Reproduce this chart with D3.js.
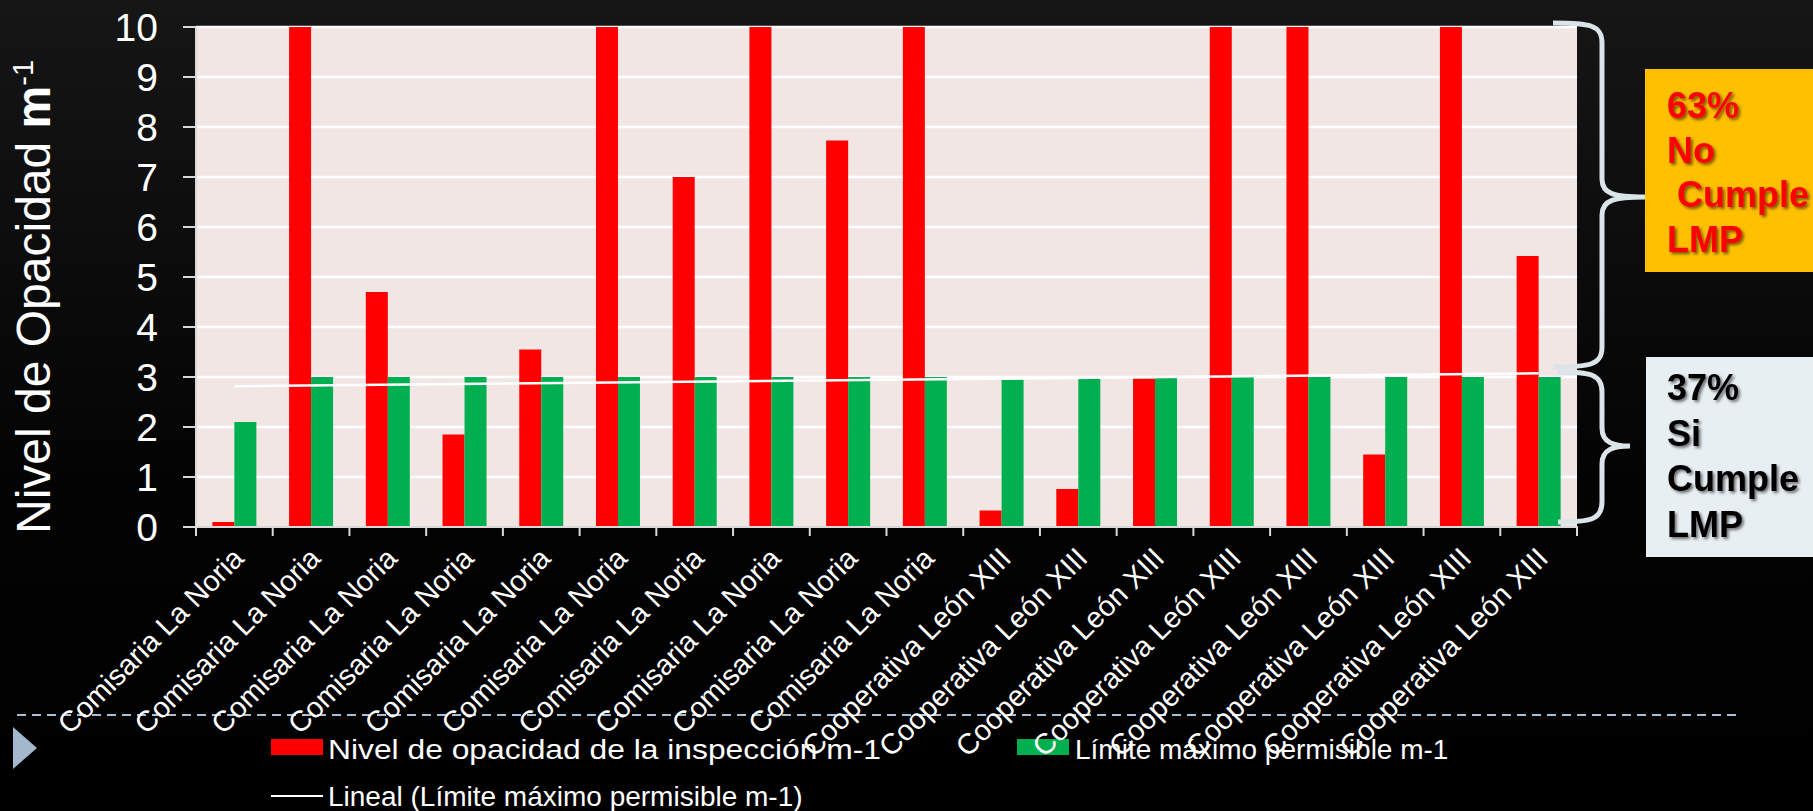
<!DOCTYPE html>
<html>
<head>
<meta charset="utf-8">
<script src="https://cdn.jsdelivr.net/npm/d3@7"></script>
<style>
  html, body { margin: 0; padding: 0; background: #000; }
  svg { display: block; }
</style>
</head>
<body>
<div id="chart"></div>
<script>
// categories (one per inspection)
const categories = [
    'Comisaria La Noria', 'Comisaria La Noria', 'Comisaria La Noria', 'Comisaria La Noria',
    'Comisaria La Noria', 'Comisaria La Noria', 'Comisaria La Noria', 'Comisaria La Noria',
    'Comisaria La Noria', 'Comisaria La Noria',
    'Cooperativa León XIII', 'Cooperativa León XIII', 'Cooperativa León XIII', 'Cooperativa León XIII',
    'Cooperativa León XIII', 'Cooperativa León XIII', 'Cooperativa León XIII', 'Cooperativa León XIII'
];

// Nivel de opacidad de la inspección m-1
const opacidad = [0.1, 10, 4.7, 1.85, 3.55, 10, 7.0, 10, 7.73, 10, 0.33, 0.76, 2.97, 10, 10, 1.45, 10, 5.42];

// Límite máximo permisible m-1
const limite = [2.1, 3, 3, 3, 3, 3, 3, 3, 3, 3, 2.95, 2.97, 2.98, 3, 3, 3, 3, 3];

const yTicks = [0, 1, 2, 3, 4, 5, 6, 7, 8, 9, 10];

const seriesNames = ['Nivel de opacidad de la inspección m-1', 'Límite máximo permisible m-1'];
const trendName = 'Lineal (Límite máximo permisible m-1)';

const noCumple = ['63%', 'No', '\u00a0Cumple', 'LMP'];
const siCumple = ['37%', 'Si', 'Cumple', 'LMP'];

const W = 1813, H = 811;
const FONT = '"Liberation Sans", Arial, sans-serif';
const RED = '#ff0000', GREEN = '#00b050';

const svg = d3.select('#chart').append('svg')
    .attr('width', W)
    .attr('height', H);

const defs = svg.append('defs');
const bg = defs.append('linearGradient')
    .attr('id', 'bg')
    .attr('x1', 0).attr('y1', 0).attr('x2', 0).attr('y2', 1);
bg.append('stop').attr('offset', 0).attr('stop-color', '#161616');
bg.append('stop').attr('offset', 0.6).attr('stop-color', '#030303');
bg.append('stop').attr('offset', 1).attr('stop-color', '#000');

const shadow = defs.append('filter').attr('id', 'shadow')
    .attr('x', '-10%').attr('y', '-10%').attr('width', '130%').attr('height', '140%');
shadow.append('feDropShadow')
    .attr('dx', 2).attr('dy', 2).attr('stdDeviation', 1.5)
    .attr('flood-color', '#000').attr('flood-opacity', 0.55);

svg.append('rect')
    .attr('width', W).attr('height', H)
    .attr('fill', 'url(#bg)');

// plot area
const plot = { left: 196, right: 1577, top: 27, bottom: 527 };

const x = d3.scaleBand()
    .domain(d3.range(categories.length))
    .range([plot.left, plot.right])
    .paddingInner(0.4265)
    .paddingOuter(0.2133);

const xSub = d3.scaleBand()
    .domain([0, 1])
    .range([0, x.bandwidth()]);

const y = d3.scaleLinear()
    .domain([0, 10])
    .range([plot.bottom, plot.top]);

const step = x.step();
const bandStart = i => x(i) - step * x.paddingInner() / 2;
const center = i => x(i) + x.bandwidth() / 2;

svg.append('rect')
    .attr('x', plot.left).attr('y', plot.top)
    .attr('width', plot.right - plot.left)
    .attr('height', plot.bottom - plot.top)
    .attr('fill', '#f2e6e4');

// gridlines
svg.append('g')
    .selectAll('line')
    .data(yTicks.filter(d => d > 0))
    .enter()
    .append('line')
    .attr('x1', plot.left).attr('x2', plot.right)
    .attr('y1', d => y(d)).attr('y2', d => y(d))
    .attr('stroke', '#fff')
    .attr('stroke-width', 2.5);

// bars
const groups = svg.append('g')
    .selectAll('g')
    .data(categories.map((c, i) => i))
    .enter()
    .append('g')
    .attr('transform', i => `translate(${x(i)},0)`);

groups.append('rect')
    .attr('x', xSub(0))
    .attr('y', i => y(opacidad[i]))
    .attr('width', xSub.bandwidth())
    .attr('height', i => y(0) - y(opacidad[i]))
    .attr('fill', RED);

groups.append('rect')
    .attr('x', xSub(1))
    .attr('y', i => y(limite[i]))
    .attr('width', xSub.bandwidth())
    .attr('height', i => y(0) - y(limite[i]))
    .attr('fill', GREEN);

// linear trendline of the limit series (least squares)
const idx = d3.range(1, limite.length + 1);
const mx = d3.mean(idx), my = d3.mean(limite);
const slope = d3.sum(idx, (v, k) => (v - mx) * (limite[k] - my)) / d3.sum(idx, v => (v - mx) * (v - mx));
const icpt = my - slope * mx;
const trend = [0, limite.length - 1].map(i => ({ i, v: icpt + slope * (i + 1) }));

svg.append('path')
    .datum(trend)
    .attr('d', d3.line().x(d => center(d.i)).y(d => y(d.v)))
    .attr('stroke', '#fff')
    .attr('stroke-width', 2.5)
    .attr('fill', 'none');

// axes
const axisColor = '#d9d9d9';
svg.append('line')
    .attr('x1', plot.left).attr('x2', plot.left)
    .attr('y1', plot.top).attr('y2', plot.bottom)
    .attr('stroke', axisColor).attr('stroke-width', 2);

svg.append('g')
    .selectAll('line')
    .data(yTicks)
    .enter()
    .append('line')
    .attr('x1', plot.left - 13).attr('x2', plot.left)
    .attr('y1', d => y(d)).attr('y2', d => y(d))
    .attr('stroke', axisColor).attr('stroke-width', 2);

svg.append('line')
    .attr('x1', plot.left - 13).attr('x2', plot.right + 1)
    .attr('y1', plot.bottom).attr('y2', plot.bottom)
    .attr('stroke', axisColor).attr('stroke-width', 2);

svg.append('g')
    .selectAll('line')
    .data(d3.range(categories.length + 1))
    .enter()
    .append('line')
    .attr('x1', i => i < categories.length ? bandStart(i) : plot.right)
    .attr('x2', i => i < categories.length ? bandStart(i) : plot.right)
    .attr('y1', plot.bottom).attr('y2', plot.bottom + 9)
    .attr('stroke', axisColor).attr('stroke-width', 2);

svg.append('g')
    .selectAll('text')
    .data(yTicks)
    .enter()
    .append('text')
    .attr('x', 158)
    .attr('y', d => y(d))
    .attr('dy', '0.36em')
    .attr('text-anchor', 'end')
    .style('font-family', FONT)
    .style('font-size', '39px')
    .style('fill', '#fff')
    .text(d => d);

// y axis title
const yTitle = svg.append('text')
    .attr('transform', `translate(50,534) rotate(-90)`)
    .style('font-family', FONT)
    .style('font-size', '48px')
    .style('fill', '#fff');
yTitle.append('tspan').text('Nivel de Opacidad ');
yTitle.append('tspan').style('font-weight', 'bold').text('m');
yTitle.append('tspan').attr('dy', '-0.6em').style('font-size', '29px').text('-1');

// dashed separator + marker
svg.append('line')
    .attr('x1', 17).attr('x2', 1742)
    .attr('y1', 715).attr('y2', 715)
    .attr('stroke', '#a9bfd6')
    .attr('stroke-width', 2)
    .attr('stroke-dasharray', '9,6');

svg.append('path')
    .attr('d', 'M13,727 L13,769 L37,748 Z')
    .attr('fill', '#a3b8cc');

// legend
const legend = svg.append('g');
legend.append('rect')
    .attr('x', 271).attr('y', 739).attr('width', 52).attr('height', 16)
    .attr('fill', RED);
legend.append('text')
    .attr('x', 328).attr('y', 759)
    .attr('textLength', 553).attr('lengthAdjust', 'spacingAndGlyphs')
    .style('font-family', FONT).style('font-size', '28px').style('fill', '#fff')
    .text(seriesNames[0]);
legend.append('rect')
    .attr('x', 1017).attr('y', 739).attr('width', 52).attr('height', 16)
    .attr('fill', GREEN);
legend.append('text')
    .attr('x', 1075).attr('y', 759)
    .style('font-family', FONT).style('font-size', '28px').style('fill', '#fff')
    .text(seriesNames[1]);
legend.append('line')
    .attr('x1', 271).attr('x2', 323)
    .attr('y1', 796).attr('y2', 796)
    .attr('stroke', '#fff').attr('stroke-width', 2);
legend.append('text')
    .attr('x', 328).attr('y', 806)
    .style('font-family', FONT).style('font-size', '28px').style('fill', '#fff')
    .text(trendName);

// category labels (rotated)
svg.append('g')
    .selectAll('text')
    .data(categories)
    .enter()
    .append('text')
    .attr('transform', (d, i) => `translate(${center(i) + 11},560) rotate(-45)`)
    .attr('text-anchor', 'end')
    .style('font-family', FONT)
    .style('font-size', '29px')
    .style('fill', '#fff')
    .text(d => d);

// braces
function brace(x0, x1, xp, y0, ym, y1) {
    return `M${x0},${y0} C${x1 - 12},${y0} ${x1},${y0 + 2} ${x1},${y0 + 20}` +
        ` L${x1},${ym - 18} C${x1},${ym - 3} ${x1 + 12},${ym} ${xp},${ym}` +
        ` C${x1 + 12},${ym} ${x1},${ym + 3} ${x1},${ym + 18}` +
        ` L${x1},${y1 - 20} C${x1},${y1 - 2} ${x1 - 12},${y1} ${x0},${y1}`;
}
const braceColor = '#dbe4e9';
svg.append('path')
    .attr('d', brace(1553, 1602, 1645, y(10) - 4, y(6.6), y(3.2)))
    .attr('fill', 'none').attr('stroke', braceColor).attr('stroke-width', 5);
svg.append('path')
    .attr('d', brace(1558, 1602, 1630, y(3.1), y(1.62), y(0.1)))
    .attr('fill', 'none').attr('stroke', braceColor).attr('stroke-width', 5);

// annotation boxes
svg.append('rect')
    .attr('x', 1645).attr('y', 69).attr('width', W - 1645).attr('height', 203)
    .attr('fill', '#ffc000');
svg.append('g')
    .selectAll('text')
    .data(noCumple)
    .enter()
    .append('text')
    .attr('x', 1667)
    .attr('y', (d, i) => 118 + i * 44.7)
    .attr('filter', 'url(#shadow)')
    .style('font-family', FONT).style('font-size', '36px').style('font-weight', 'bold')
    .style('fill', RED)
    .text(d => d);

svg.append('rect')
    .attr('x', 1646).attr('y', 357).attr('width', W - 1646).attr('height', 200)
    .attr('fill', '#e8eff2');
svg.append('g')
    .selectAll('text')
    .data(siCumple)
    .enter()
    .append('text')
    .attr('x', 1667)
    .attr('y', (d, i) => 400 + i * 45.5)
    .attr('filter', 'url(#shadow)')
    .style('font-family', FONT).style('font-size', '36px').style('font-weight', 'bold')
    .style('fill', '#000')
    .text(d => d);
</script>
</body>
</html>
